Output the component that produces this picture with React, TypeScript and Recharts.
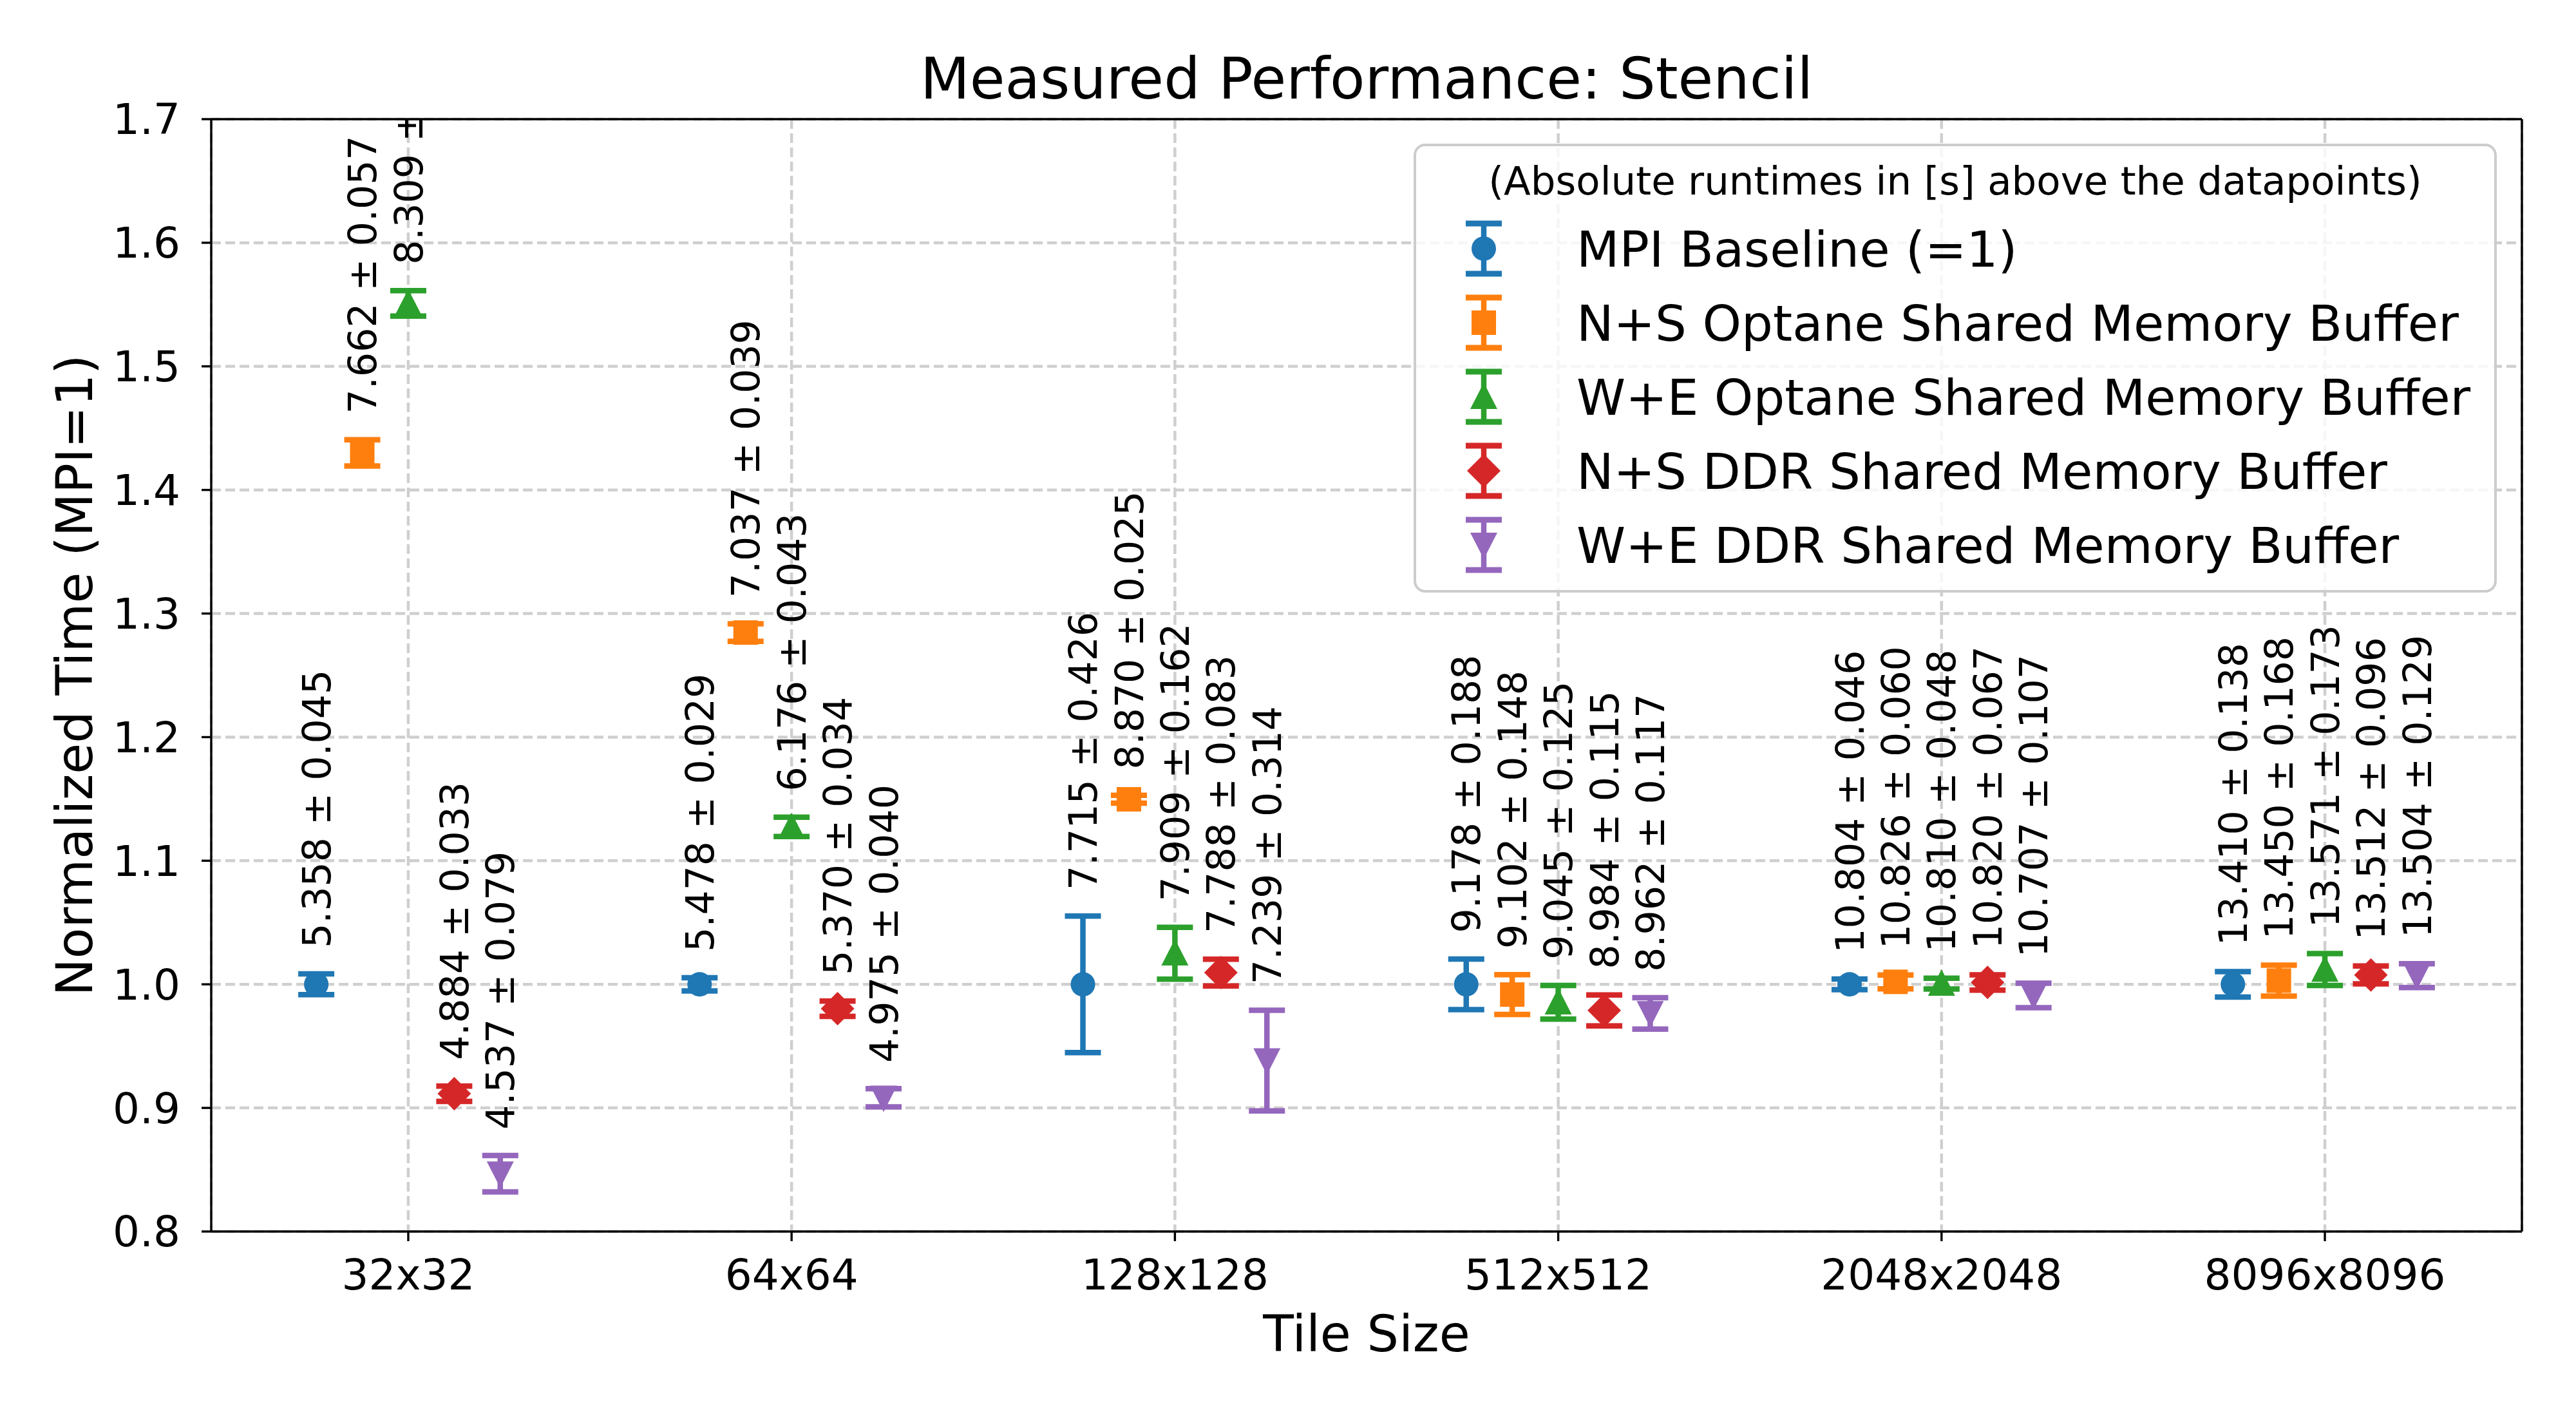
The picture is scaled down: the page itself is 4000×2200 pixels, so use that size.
import React from "react";
import {
  CartesianGrid,
  ErrorBar,
  Legend,
  ReferenceLine,
  Scatter,
  ScatterChart,
  XAxis,
  YAxis,
} from "recharts";

const FONT = "DejaVu Sans";

const tileSizes = ["32x32", "64x64", "128x128", "512x512", "2048x2048", "8096x8096"];

const seriesNames = [
  "MPI Baseline (=1)",
  "N+S Optane Shared Memory Buffer",
  "W+E Optane Shared Memory Buffer",
  "N+S DDR Shared Memory Buffer",
  "W+E DDR Shared Memory Buffer",
];
const seriesColors = ["#1f77b4", "#ff7f0e", "#2ca02c", "#d62728", "#9467bd"];
const seriesMarkers = ["circle", "square", "triangleUp", "diamond", "triangleDown"];
const xOffsets = [-0.24, -0.12, 0, 0.12, 0.24];

// absolute runtimes [s] (the rotated annotations)
const mpiMean = [5.358, 5.478, 7.715, 9.178, 10.804, 13.41];
const mpiStd = [0.045, 0.029, 0.426, 0.188, 0.046, 0.138];
const nsOptMean = [7.662, 7.037, 8.87, 9.102, 10.826, 13.45];
const nsOptStd = [0.057, 0.039, 0.025, 0.148, 0.06, 0.168];
const weOptMean = [8.309, 6.176, 7.909, 9.045, 10.81, 13.571];
const weOptStd = [0.055, 0.043, 0.162, 0.125, 0.048, 0.173];
const nsDdrMean = [4.884, 5.37, 7.788, 8.984, 10.82, 13.512];
const nsDdrStd = [0.033, 0.034, 0.083, 0.115, 0.067, 0.096];
const weDdrMean = [4.537, 4.975, 7.239, 8.962, 10.707, 13.504];
const weDdrStd = [0.079, 0.04, 0.314, 0.117, 0.107, 0.129];

// normalized time (MPI = 1) and its error
const mpiNorm = [1, 1, 1, 1, 1, 1];
const mpiErr = [0.0084, 0.0053, 0.0552, 0.0205, 0.0043, 0.0103];
const nsOptNorm = [1.43, 1.2846, 1.1497, 0.9917, 1.002, 1.003];
const nsOptErr = [0.0106, 0.0071, 0.0032, 0.0161, 0.0056, 0.0125];
const weOptNorm = [1.551, 1.1274, 1.0251, 0.9855, 1.0006, 1.012];
const weOptErr = [0.0103, 0.0078, 0.021, 0.0136, 0.0044, 0.0129];
const nsDdrNorm = [0.9115, 0.9803, 1.0095, 0.9789, 1.0015, 1.0076];
const nsDdrErr = [0.0062, 0.0062, 0.0108, 0.0125, 0.0062, 0.0072];
const weDdrNorm = [0.8468, 0.9082, 0.9383, 0.9765, 0.991, 1.007];
const weDdrErr = [0.0147, 0.0073, 0.0407, 0.0127, 0.0099, 0.0096];

const yTicks = [0.8, 0.9, 1.0, 1.1, 1.2, 1.3, 1.4, 1.5, 1.6, 1.7];
const xTicks = [0, 1, 2, 3, 4, 5];

const means = [mpiMean, nsOptMean, weOptMean, nsDdrMean, weDdrMean];
const stds = [mpiStd, nsOptStd, weOptStd, nsDdrStd, weDdrStd];
const norms = [mpiNorm, nsOptNorm, weOptNorm, nsDdrNorm, weDdrNorm];
const errs = [mpiErr, nsOptErr, weOptErr, nsDdrErr, weDdrErr];

const LABEL_GAP = 0.021;

const series = seriesNames.map((name, k) => ({
  name,
  color: seriesColors[k],
  marker: seriesMarkers[k],
  points: tileSizes.map((_, i) => ({
    x: i + xOffsets[k],
    y: norms[k][i],
    err: errs[k][i],
  })),
  labels: tileSizes.map((_, i) => ({
    x: i + xOffsets[k],
    y: norms[k][i] + errs[k][i] + LABEL_GAP,
    text: `${means[k][i].toFixed(3)} ± ${stds[k][i].toFixed(3)}`,
  })),
}));

function Marker({ kind, cx, cy, color }: { kind: string; cx: number; cy: number; color: string }) {
  switch (kind) {
    case "circle":
      return <circle cx={cx} cy={cy} r={19} fill={color} />;
    case "square":
      return <rect x={cx - 19} y={cy - 19} width={38} height={38} fill={color} />;
    case "triangleUp":
      return (
        <polygon
          points={`${cx},${cy - 22} ${cx - 21},${cy + 19} ${cx + 21},${cy + 19}`}
          fill={color}
        />
      );
    case "triangleDown":
      return (
        <polygon
          points={`${cx},${cy + 22} ${cx - 21},${cy - 19} ${cx + 21},${cy - 19}`}
          fill={color}
        />
      );
    default:
      return (
        <polygon
          points={`${cx},${cy - 26} ${cx + 26},${cy} ${cx},${cy + 26} ${cx - 26},${cy}`}
          fill={color}
        />
      );
  }
}

const LegendBox = () => {
  const rows = [163, 278, 393, 508, 623];
  return (
    <svg width={1682} height={697} style={{ display: "block" }}>
      <rect
        x={2}
        y={2}
        width={1678}
        height={693}
        rx={16}
        fill="#ffffff"
        fillOpacity={0.8}
        stroke="#cccccc"
        strokeWidth={4}
      />
      <text x={841} y={79} textAnchor="middle" fontSize={61} fontFamily={FONT} fill="#000">
        (Absolute runtimes in [s] above the datapoints)
      </text>
      {series.map((s, k) => {
        const cy = rows[k];
        const cx = 109;
        return (
          <g key={s.name}>
            <line x1={cx} x2={cx} y1={cy - 39} y2={cy + 39} stroke={s.color} strokeWidth={8.5} />
            <line x1={cx - 28} x2={cx + 28} y1={cy - 39} y2={cy - 39} stroke={s.color} strokeWidth={9} />
            <line x1={cx - 28} x2={cx + 28} y1={cy + 39} y2={cy + 39} stroke={s.color} strokeWidth={9} />
            <Marker kind={s.marker} cx={cx} cy={cy} color={s.color} />
            <text x={253} y={cy + 28} fontSize={77} fontFamily={FONT} fill="#000">
              {s.name}
            </text>
          </g>
        );
      })}
    </svg>
  );
};

export default function App() {
  return (
    <div style={{ position: "absolute", left: 0, top: 0, width: 4000, height: 2200, background: "#fff" }}>
      <svg
        width={4000}
        height={200}
        style={{ position: "absolute", left: 0, top: 0, pointerEvents: "none" }}
      >
        <text x={2122} y={153} textAnchor="middle" fontSize={89} fontFamily={FONT} fill="#000">
          Measured Performance: Stencil
        </text>
      </svg>
      <ScatterChart
        width={4000}
        height={2200}
        margin={{ top: 185, right: 84, bottom: 0, left: 0 }}
      >
        <CartesianGrid stroke="#cfcfcf" strokeDasharray="15 7" strokeWidth={4.5} />
        <XAxis
          type="number"
          dataKey="x"
          domain={[-0.514, 5.514]}
          ticks={xTicks}
          allowDataOverflow
          tickFormatter={(v: number) => tileSizes[Math.round(v)]}
          height={288}
          stroke="#000"
          axisLine={{ stroke: "#000", strokeWidth: 3.4 }}
          tickLine={{ stroke: "#000", strokeWidth: 3.4 }}
          tickSize={15}
          tickMargin={28}
          tick={{ fontSize: 66, fontFamily: FONT, fill: "#000" }}
          label={{
            value: "Tile Size",
            position: "insideBottom",
            offset: 102,
            fontSize: 78,
            fontFamily: FONT,
            fill: "#000",
          }}
        />
        <YAxis
          type="number"
          dataKey="y"
          domain={[0.8, 1.7]}
          ticks={yTicks}
          allowDataOverflow
          tickFormatter={(v: number) => v.toFixed(1)}
          width={328}
          stroke="#000"
          axisLine={{ stroke: "#000", strokeWidth: 3.4 }}
          tickLine={{ stroke: "#000", strokeWidth: 3.4 }}
          tickSize={15}
          tickMargin={33}
          tick={{ fontSize: 66, fontFamily: FONT, fill: "#000" }}
          label={{
            value: "Normalized Time (MPI=1)",
            position: "center",
            angle: -90,
            dx: -49,
            fontSize: 78,
            fontFamily: FONT,
            fill: "#000",
          }}
        />
        <ReferenceLine y={1.7} stroke="#000" strokeWidth={3.4} />
        <ReferenceLine x={5.514} stroke="#000" strokeWidth={3.4} />
        {series.map((s) => (
          <Scatter
            key={s.name}
            name={s.name}
            data={s.points}
            fill={s.color}
            isAnimationActive={false}
            shape={(p: any) => <Marker kind={s.marker} cx={p.cx} cy={p.cy} color={s.color} />}
          >
            <ErrorBar
              dataKey="err"
              direction="y"
              width={28}
              strokeWidth={8.5}
              stroke={s.color}
              isAnimationActive={false}
            />
          </Scatter>
        ))}
        {series.map((s) => (
          <Scatter
            key={`${s.name}-labels`}
            name={`${s.name} labels`}
            data={s.labels}
            legendType="none"
            isAnimationActive={false}
            shape={(p: any) => (
              <text
                x={p.cx}
                y={p.cy}
                dy="0.36em"
                transform={`rotate(-90 ${p.cx} ${p.cy})`}
                fontSize={60}
                fontFamily={FONT}
                fill="#000"
              >
                {p.payload.text}
              </text>
            )}
          />
        ))}
        <Legend
          layout="horizontal"
          verticalAlign="middle"
          align="center"
          width={1682}
          height={697}
          wrapperStyle={{ left: 2195, top: 223, width: 1682, height: 697 }}
          content={() => <LegendBox />}
        />
      </ScatterChart>
    </div>
  );
}
